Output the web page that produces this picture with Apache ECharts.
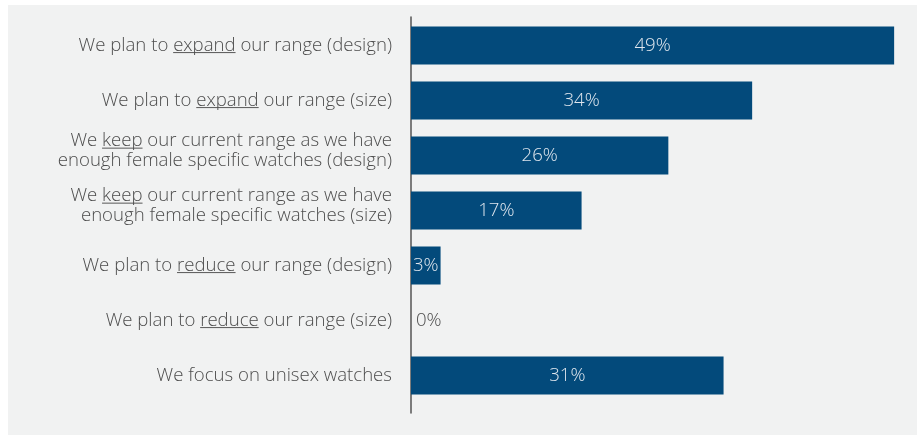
<!DOCTYPE html>
<html>
<head>
<meta charset="utf-8">
<script src="https://cdn.jsdelivr.net/npm/echarts@6/dist/echarts.min.js"></script>
<style>
  html, body { margin: 0; padding: 0; background: #fff; }
  #chart { position: absolute; left: 8px; top: 5px; width: 909px; height: 430px; }
</style>
</head>
<body>
<div id="chart"></div>
<script>
// answers, top to bottom ({u|...} = underlined word)
var categories = [
  'We plan to {u|expand} our range (design)',
  'We plan to {u|expand} our range (size)',
  'We {u|keep} our current range as we have\nenough female specific watches (design)',
  'We {u|keep} our current range as we have\nenough female specific watches (size)',
  'We plan to {u|reduce} our range (design)',
  'We plan to {u|reduce} our range (size)',
  'We focus on unisex watches'
];
// bar lengths as drawn, and the percentages printed on them
var values = [49.0, 34.6, 26.1, 17.3, 3.0, 0, 31.7];
var pctLabels = ['49%', '34%', '26%', '17%', '3%', '0%', '31%'];

var barColor = '#034a7b';
var textColor = '#4d4d4d';

// little strip used as background of the underlined words
var ul = document.createElement('canvas');
ul.width = 1; ul.height = 20;
var ctx = ul.getContext('2d');
ctx.fillStyle = textColor;
ctx.fillRect(0, 17, 1, 1);

var yData = categories.map(function (c) {
  if (c.indexOf('\n') >= 0) {
    return { value: c, textStyle: { padding: [0, 0, 9, 0] } };
  }
  return c;
});

var seriesData = values.map(function (v) {
  if (v === 0) {
    return { value: v, label: { position: 'right', distance: 5, color: textColor } };
  }
  return v;
});

var myChart = echarts.init(document.getElementById('chart'));
var option = {
  backgroundColor: '#f1f2f2',
  animation: false,
  grid: [
    { left: 403, top: 13, width: 493, height: 385 },
    { left: 403, top: 12, width: 493, height: 396 }
  ],
  xAxis: [
    { type: 'value', gridIndex: 0, min: 0, max: 50, show: false },
    { type: 'value', gridIndex: 1, min: 0, max: 50, show: false }
  ],
  yAxis: [
    {
      type: 'category',
      gridIndex: 0,
      inverse: true,
      data: yData,
      axisLine: { show: false },
      axisTick: { show: false },
      axisLabel: {
        margin: 19,
        fontSize: 18.6,
        lineHeight: 20,
        fontFamily: 'Open Sans',
        fontWeight: 300,
        color: textColor,
        rich: {
          u: {
            fontSize: 18.6,
            lineHeight: 20,
            fontFamily: 'Open Sans',
            fontWeight: 300,
            color: textColor,
            backgroundColor: { image: ul }
          }
        }
      }
    },
    {
      // only the vertical axis line, a bit longer than the bars
      type: 'value',
      gridIndex: 1,
      axisLine: { show: true, lineStyle: { color: '#555', width: 1.5 } },
      axisTick: { show: false },
      axisLabel: { show: false },
      splitLine: { show: false }
    }
  ],
  series: [{
    type: 'bar',
    xAxisIndex: 0,
    yAxisIndex: 0,
    data: seriesData,
    barWidth: 38,
    itemStyle: { color: barColor },
    label: {
      show: true,
      position: 'inside',
      fontSize: 18.6,
      fontFamily: 'Open Sans',
      fontWeight: 300,
      color: '#dfe6ee',
      formatter: function (p) { return pctLabels[p.dataIndex]; }
    }
  }]
};
myChart.setOption(option);
window.addEventListener('resize', function () { myChart.resize(); });
</script>
</body>
</html>
